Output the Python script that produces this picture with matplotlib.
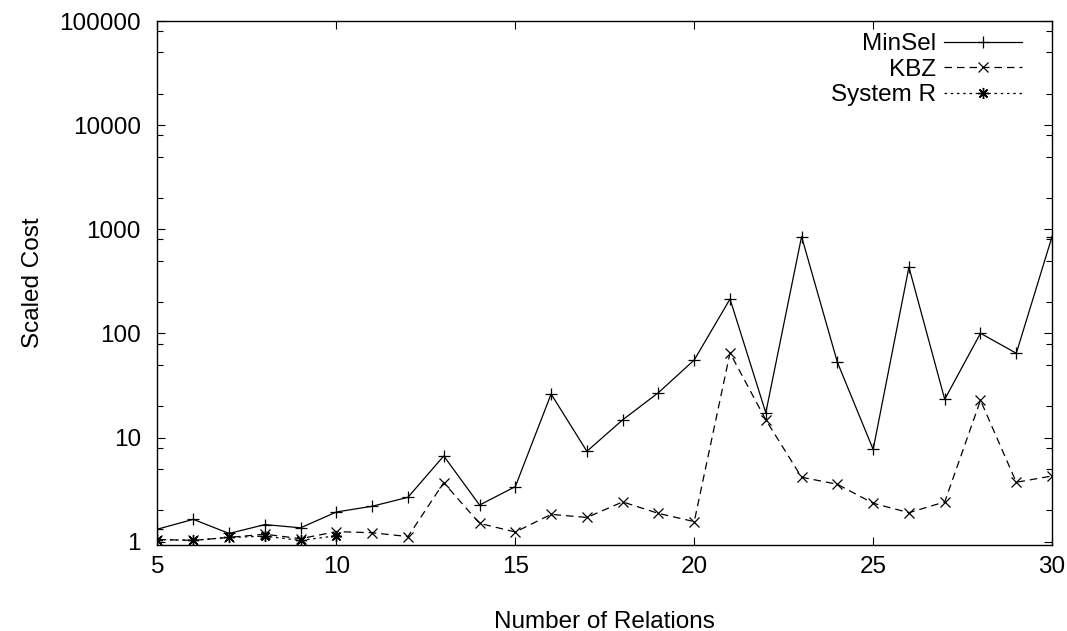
import matplotlib
matplotlib.use('Agg')
import matplotlib.pyplot as plt
from matplotlib.ticker import LogLocator, NullFormatter, FuncFormatter

plt.rcParams['font.family'] = ['Liberation Sans', 'DejaVu Sans']

# 資料
relations = list(range(5, 31))
minsel = [1.32, 1.64, 1.20, 1.46, 1.36, 1.93, 2.19, 2.67, 6.66, 2.25,
          3.38, 26.2, 7.38, 14.8, 27.0, 55.6, 214, 17.3, 851, 52.9,
          7.7, 433, 23.3, 100.4, 64.5, 851]
kbz = [1.05, 1.03, 1.10, 1.18, 1.07, 1.25, 1.22, 1.12, 3.69, 1.50,
       1.24, 1.83, 1.71, 2.41, 1.87, 1.56, 65.0, 14.8, 4.16, 3.56,
       2.34, 1.90, 2.41, 22.8, 3.72, 4.28]
sysr_x = [5, 6, 7, 8, 9, 10]
sysr = [1.05, 1.03, 1.10, 1.13, 1.03, 1.14]
yticks = [1, 10, 100, 1000, 10000, 100000]

fs = 17.5

fig = plt.figure(figsize=(10.67, 6.31), dpi=100)
ax = fig.add_axes([0.1476, 0.1363, 0.8384, 0.8304])

ax.plot(relations, minsel, color='black', lw=0.9, ls='-',
        marker='+', ms=8, mew=0.9, label='MinSel')
ax.plot(relations, kbz, color='black', lw=0.9, ls=(0, (6, 4)),
        marker='x', ms=7, mew=0.9, label='KBZ')
ax.plot(sysr_x, sysr, color='black', lw=0.9, ls=(0, (2, 3)),
        marker=(8, 2, 0), ms=8, mew=1.0, label='System R')

ax.set_yscale('log')
ax.set_xlim(5, 30)
ax.set_ylim(0.93, 100000)
ax.set_xticks(range(5, 31, 5))
ax.set_yticks(yticks)
ax.yaxis.set_major_formatter(FuncFormatter(lambda v, p: '%d' % round(v)))
ax.yaxis.set_minor_locator(LogLocator(base=10, subs=[2, 5, 8]))
ax.yaxis.set_minor_formatter(NullFormatter())

ax.tick_params(which='both', direction='in', top=True, right=True,
               labelsize=fs, width=0.8)
ax.tick_params(which='major', length=6)
ax.tick_params(which='minor', length=4)
ax.tick_params(axis='x', pad=8)
ax.tick_params(axis='y', pad=12)
for s in ax.spines.values():
    s.set_linewidth(1.0)

ax.set_xlabel('Number of Relations', fontsize=fs, va='center')
ax.set_ylabel('Scaled Cost', fontsize=fs, va='center')
ax.xaxis.set_label_coords(0.5, -0.147)
ax.yaxis.set_label_coords(-0.139, 0.5)

ax.legend(loc='upper right', bbox_to_anchor=(0.9665, 0.977), frameon=False,
          markerfirst=False, fontsize=fs, handlelength=3.2,
          handletextpad=0.35, labelspacing=0.15, borderpad=0,
          borderaxespad=0)

fig.savefig('out.png', dpi=100)
